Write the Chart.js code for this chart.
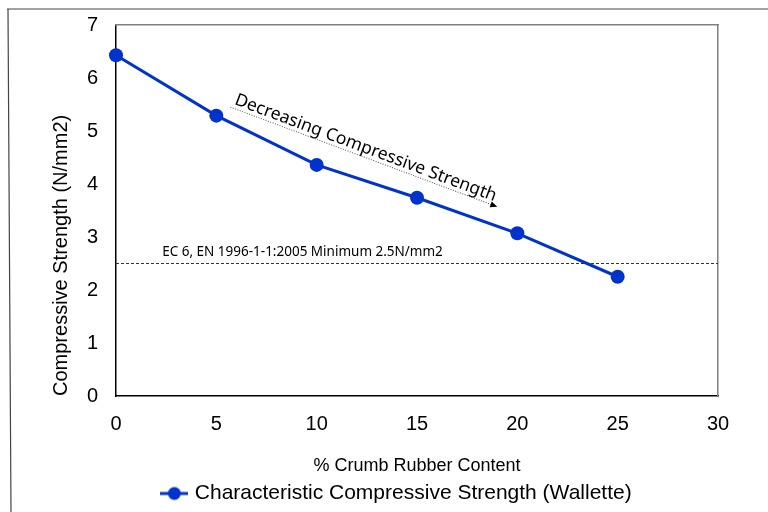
<!DOCTYPE html>
<html>
<head>
<meta charset="utf-8">
<title>Compressive strength vs crumb rubber</title>
<script src="https://cdn.jsdelivr.net/npm/chart.js@4/dist/chart.umd.min.js"></script>
<style>
    body { margin: 0; background: #fff; }
    #strengthChart { display: block; }
</style>
</head>
<body>
<canvas id="strengthChart" width="768" height="512"></canvas>
<script>
const crumbContent = [0, 5, 10, 15, 20, 25];
const strength = [6.43, 5.29, 4.36, 3.74, 3.07, 2.25];
const xRange = [0, 30];
const yRange = [0, 7];
const minimumStrength = 2.5;

const seriesLabel = 'Characteristic Compressive Strength (Wallette)';
const limitLabel = 'EC 6, EN 1996-1-1:2005 Minimum 2.5N/mm2';
const trendLabel = 'Decreasing Compressive Strength';
const xTitle = '% Crumb Rubber Content';
const yTitle = 'Compressive Strength (N/mm2)';

// where the notes sit, in data units
const limitLabelAt = { x: 2.3, y: 2.65 };
const trendStart = { x: 5.7, y: 5.45 };
const trendEnd = { x: 19.0, y: 3.57 };

const blue = '#0033cc';
const fontFamily = "'Liberation Sans', Arial, sans-serif";
const noteFont = "'Noto Sans', 'Open Sans', sans-serif";

function legendMarker() {
    const c = document.createElement('canvas');
    c.width = 28;
    c.height = 16;
    const ctx = c.getContext('2d');
    ctx.strokeStyle = blue;
    ctx.lineWidth = 3;
    ctx.beginPath();
    ctx.moveTo(0, 8);
    ctx.lineTo(28, 8);
    ctx.stroke();
    ctx.fillStyle = blue;
    ctx.beginPath();
    ctx.arc(14, 8, 6.5, 0, Math.PI * 2);
    ctx.fill();
    return c;
}

const notes = {
    id: 'notes',
    beforeDraw(chart) {
        const ctx = chart.ctx;
        ctx.save();
        ctx.strokeStyle = '#444';
        ctx.lineWidth = 1.2;
        ctx.beginPath();
        ctx.moveTo(7, 9);
        ctx.lineTo(768, 9);
        ctx.moveTo(8, 9);
        ctx.lineTo(11, 512);
        ctx.stroke();
        ctx.restore();
    },
    afterDatasetsDraw(chart) {
        const ctx = chart.ctx;
        const xs = chart.scales.x;
        const ys = chart.scales.y;

        ctx.save();
        ctx.fillStyle = '#000';
        ctx.font = '13.5px ' + noteFont;
        ctx.textBaseline = 'alphabetic';
        ctx.fillText(limitLabel, xs.getPixelForValue(limitLabelAt.x), ys.getPixelForValue(limitLabelAt.y));

        const x0 = xs.getPixelForValue(trendStart.x);
        const y0 = ys.getPixelForValue(trendStart.y);
        const x1 = xs.getPixelForValue(trendEnd.x);
        const y1 = ys.getPixelForValue(trendEnd.y);
        const len = Math.hypot(x1 - x0, y1 - y0);
        ctx.translate(x0, y0);
        ctx.rotate(Math.atan2(y1 - y0, x1 - x0));
        ctx.font = '17.5px ' + noteFont;
        ctx.fillText(trendLabel, 2, -4);

        ctx.strokeStyle = '#555';
        ctx.lineWidth = 1;
        ctx.setLineDash([1, 1.5]);
        ctx.beginPath();
        ctx.moveTo(0, 0);
        ctx.lineTo(len - 4, 0);
        ctx.stroke();
        ctx.setLineDash([]);
        ctx.fillStyle = '#000';
        ctx.beginPath();
        ctx.moveTo(len, 0);
        ctx.lineTo(len - 7, -3);
        ctx.lineTo(len - 7, 3);
        ctx.closePath();
        ctx.fill();
        ctx.restore();
    }
};

const data = {
    datasets: [{
        label: seriesLabel,
        data: crumbContent.map((x, i) => ({ x: x, y: strength[i] })),
        borderColor: blue,
        backgroundColor: blue,
        borderWidth: 3,
        pointRadius: 7,
        pointHoverRadius: 7,
        pointBorderWidth: 0,
        clip: false,
        order: 0
    }, {
        label: limitLabel,
        data: xRange.map(x => ({ x: x, y: minimumStrength })),
        borderColor: '#333',
        borderWidth: 1,
        borderDash: [3, 2],
        pointRadius: 0,
        order: 1
    }]
};

const config = {
    type: 'line',
    data,
    plugins: [notes],
    options: {
        responsive: false,
        animation: false,
        layout: { padding: { left: 28, right: 0, top: 0, bottom: -2 } },
        plugins: {
            tooltip: { enabled: false },
            legend: {
                position: 'bottom',
                labels: {
                    color: '#000',
                    font: { family: fontFamily, size: 21 },
                    padding: 6,
                    usePointStyle: true,
                    pointStyleWidth: 20,
                    filter: item => item.datasetIndex === 0,
                    generateLabels: chart => [{
                        text: seriesLabel,
                        pointStyle: legendMarker(),
                        fontColor: '#000',
                        datasetIndex: 0,
                        lineWidth: 0
                    }]
                }
            }
        },
        scales: {
            x: {
                type: 'linear',
                position: 'bottom',
                min: xRange[0],
                max: xRange[1],
                ticks: { stepSize: 5, color: '#000', padding: 16, font: { family: fontFamily, size: 20 } },
                grid: { display: false, drawTicks: false },
                border: { color: '#000', width: 1.5 },
                title: { display: true, text: xTitle, color: '#000', padding: 0, font: { family: fontFamily, size: 18 } },
                afterFit: scale => { scale.height = 81; }
            },
            y: {
                position: 'left',
                min: yRange[0],
                max: yRange[1],
                ticks: { stepSize: 1, color: '#000', padding: 6, font: { family: fontFamily, size: 20 } },
                grid: { display: false, drawTicks: true, tickLength: 12 },
                border: { color: '#000', width: 1.5 },
                title: { display: true, text: yTitle, color: '#000', align: 'start', padding: { top: 21, bottom: 0 }, font: { family: fontFamily, size: 20 } },
                afterFit: scale => { scale.width = 88; }
            },
            x2: {
                type: 'linear',
                position: 'top',
                ticks: { display: false },
                grid: { display: false, drawTicks: false },
                border: { color: '#808080', width: 1.5 },
                afterFit: scale => { scale.height = 25; }
            },
            y2: {
                position: 'right',
                ticks: { display: false },
                grid: { display: false, drawTicks: false },
                border: { color: '#808080', width: 1.5 },
                afterFit: scale => { scale.width = 50; }
            }
        }
    }
};

const strengthChart = new Chart(
    document.getElementById('strengthChart'),
    config
);
</script>
</body>
</html>
